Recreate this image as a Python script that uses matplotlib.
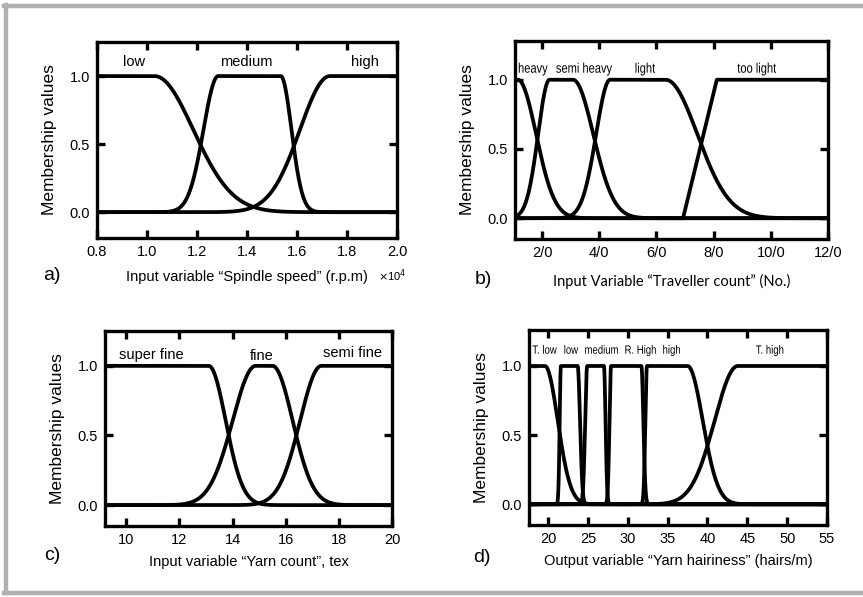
import numpy as np
import matplotlib
matplotlib.use("Agg")
import matplotlib.pyplot as plt
import matplotlib.transforms as mtransforms
from matplotlib.lines import Line2D
from matplotlib.textpath import TextPath
from matplotlib.patches import PathPatch
from matplotlib.font_manager import FontProperties

plt.rcParams['font.family'] = ['Liberation Sans', 'DejaVu Sans']

# membership function parameters
# gauss2mf: [sigma_left, c_left, sigma_right, c_right]  (None = open side)

# a) spindle speed (x 10^4 r.p.m)
speed_names = ["low", "medium", "high"]
speed_params = [[None, 0.80, 0.155, 1.03],
                [0.059, 1.285, 0.043, 1.535],
                [0.120, 1.732, None, 2.00]]
speed_ticks = [0.8, 1.0, 1.2, 1.4, 1.6, 1.8, 2.0]

# b) traveller count
trav_names = ["heavy", "semi heavy", "light", "too light"]
trav_params = [[None, 11.5, 6.4, 11.5],
               [4.0, 22.6, 7.1, 30.8],
               [4.9, 43.8, 11.1, 63.2]]
trav_trap = [69.3, 81.1]  # "too light": linear ramp then flat
trav_ticks = [20, 40, 60, 80, 100, 120]
trav_ticklabels = ["2/0", "4/0", "6/0", "8/0", "10/0", "12/0"]

# c) yarn count, tex
count_names = ["super fine", "fine", "semi fine"]
count_params = [[None, 9.2, 0.64, 13.1],
                [0.87, 14.87, 0.76, 15.5],
                [0.80, 17.34, None, 20.0]]
count_ticks = [10, 12, 14, 16, 18, 20]

# d) yarn hairiness (hairs/m)
hair_names = ["T. low", "low", "medium", "R. High", "high", "T. high"]
hair_params = [[None, 17.6, 1.6, 19.6],
               [0.15, 21.6, 0.30, 23.7],
               [0.25, 24.9, 0.20, 27.0],
               [0.20, 27.9, 0.25, 31.7],
               [0.20, 32.4, 1.90, 37.5],
               [2.90, 43.8, None, 55.0]]
hair_ticks = [20, 25, 30, 35, 40, 45, 50, 55]


def gauss2mf(x, p):
    s1, c1, s2, c2 = p
    y = np.ones_like(x)
    if s1 is not None:
        m = x < c1
        y[m] = np.exp(-0.5 * ((x[m] - c1) / s1) ** 2)
    if s2 is not None:
        m = x > c2
        y[m] = np.exp(-0.5 * ((x[m] - c2) / s2) ** 2)
    return y


# condensed label: text outline squeezed horizontally (no narrow font installed)
def narrow_text(ax, x, y, s, size, squeeze=0.8):
    tp = TextPath((0, 0), s, size=size, prop=FontProperties(family='Liberation Sans'))
    bb = tp.get_extents()
    k = ax.figure.dpi / 72.0
    tr = (mtransforms.Affine2D()
          .translate(-(bb.x0 + bb.x1) / 2, -size * 0.36)
          .scale(squeeze * k, k)
          + mtransforms.ScaledTranslation(x, y, ax.transData))
    ax.add_artist(PathPatch(tp, transform=tr, facecolor='black', edgecolor='none'))


def style_axes(ax, xlim, ylim, xticks, xticklabels=None):
    ax.set_xlim(*xlim)
    ax.set_ylim(*ylim)
    ax.set_xticks(xticks)
    if xticklabels is not None:
        ax.set_xticklabels(xticklabels)
    ax.set_yticks([0, 0.5, 1.0])
    ax.set_yticklabels(["0.0", "0.5", "1.0"])
    ax.tick_params(direction='in', top=True, right=True, length=6, width=2.4,
                   labelsize=10.5, pad=5)
    for s in ax.spines.values():
        s.set_linewidth(2.4)
    ax.set_ylabel("Membership values", fontsize=12.5, labelpad=9)


LW = 2.7
fig = plt.figure(figsize=(8.63, 5.97), dpi=100)

# gray frame
for xs, ys in [([0.005, 0.999], [0.990, 0.990]),
               ([0.007, 0.007], [0.006, 0.992]),
               ([0.005, 0.999], [0.007, 0.007])]:
    fig.add_artist(Line2D(xs, ys, color='#b0b0b0', lw=3.2))

# a)
ax = fig.add_axes([0.1124, 0.6013, 0.3476, 0.3283])
x = np.linspace(0.8, 2.0, 2000)
for p in speed_params:
    ax.plot(x, gauss2mf(x, p), color='black', lw=LW)
style_axes(ax, (0.8, 2.0), (-0.19, 1.25), speed_ticks,
           ["%.1f" % t for t in speed_ticks])
for name, xp in zip(speed_names, [0.948, 1.396, 1.872]):
    ax.text(xp, 1.1, name, ha='center', va='center', fontsize=10.5)
ax.set_xlabel("Input variable \u201cSpindle speed\u201d (r.p.m)", fontsize=10.5, labelpad=8)
fig.text(392 / 863, 1 - 276 / 597, r"$\times$10$^{4}$", ha='center', va='center', fontsize=8)
fig.text(52 / 863, 1 - 276 / 597, "a)", ha='center', va='center', fontsize=14)

# b)
ax = fig.add_axes([0.5967, 0.5997, 0.3627, 0.3317])
x = np.linspace(10.5, 120, 3000)
for p in trav_params:
    ax.plot(x, gauss2mf(x, p), color='black', lw=LW)
ax.plot(x, np.interp(x, trav_trap, [0.0, 1.0]), color='black', lw=LW)
style_axes(ax, (10.5, 120), (-0.15, 1.28), trav_ticks, trav_ticklabels)
for name, xp in zip(trav_names, [16.9, 34.7, 56.1, 95.1]):
    narrow_text(ax, xp, 1.087, name, 10)
ax.set_xlabel("Input Variable \u201cTraveller count\u201d (No.)", fontsize=10.5,
              family=['Lato', 'DejaVu Sans'], labelpad=10)
fig.text(483 / 863, 1 - 280 / 597, "b)", ha='center', va='center', fontsize=14)

# c)
ax = fig.add_axes([0.1217, 0.1189, 0.3326, 0.3266])
x = np.linspace(9.2, 20, 2000)
for p in count_params:
    ax.plot(x, gauss2mf(x, p), color='black', lw=LW)
style_axes(ax, (9.2, 20), (-0.15, 1.25), count_ticks)
for name, xp, yp in zip(count_names, [10.95, 15.1, 18.5], [1.08, 1.07, 1.09]):
    ax.text(xp, yp, name, ha='center', va='center', fontsize=10.5)
ax.set_xlabel("Input variable \u201cYarn count\u201d, tex", fontsize=10.5, labelpad=6)
fig.text(52 / 863, 1 - 556 / 597, "c)", ha='center', va='center', fontsize=14)

# d)
ax = fig.add_axes([0.6130, 0.1206, 0.3453, 0.3266])
x = np.linspace(17.6, 55, 4000)
for p in hair_params:
    ax.plot(x, gauss2mf(x, p), color='black', lw=LW)
style_axes(ax, (17.6, 55), (-0.15, 1.26), hair_ticks)
for name, xp in zip(hair_names, [19.56, 22.9, 26.7, 31.6, 35.5, 47.8]):
    narrow_text(ax, xp, 1.12, name, 8.6)
ax.set_xlabel("Output variable \u201cYarn hairiness\u201d (hairs/m)", fontsize=10.5, labelpad=6)
fig.text(482 / 863, 1 - 557 / 597, "d)", ha='center', va='center', fontsize=14)

fig.savefig("out.png", dpi=100)
